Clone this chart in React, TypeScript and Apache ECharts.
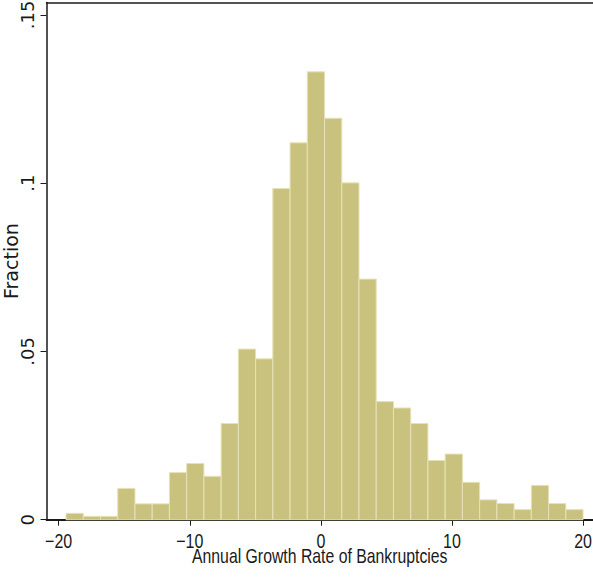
import React, { useEffect, useRef } from "react";
import * as echarts from "echarts";

// Histogram: fraction of observations per bin of annual growth rate of bankruptcies
const binStart = -19.44;
const binWidth = 1.3147;
const fractions = [
  0.0019, 0.001, 0.001, 0.0093, 0.0047, 0.0047, 0.014, 0.0167, 0.0129, 0.0286,
  0.0507, 0.0478, 0.0984, 0.112, 0.1331, 0.1193, 0.1001, 0.0715, 0.0351, 0.0332,
  0.0286, 0.0176, 0.0195, 0.0111, 0.0059, 0.0048, 0.003, 0.0102, 0.0048, 0.003,
];
const xTicks = [-20, -10, 0, 10, 20];
const yTicks = [0, 0.05, 0.1, 0.15];
const yTickLabels = ["0", ".05", ".1", ".15"];
const xName = "Annual Growth Rate of Bankruptcies";
const yName = "Fraction";

const X_MIN = -20.93;
const X_MAX = 20.76;
const Y_MAX = 0.1537;

const sans = "'Liberation Sans', Arial, sans-serif";
const wide = "'DejaVu Sans', sans-serif";
const INK = "#1a1a1a";

const fmtX = (v: number) => (v < 0 ? "\u2212" + Math.abs(v) : String(v));

export default function App() {
  const ref = useRef<HTMLDivElement>(null);
  useEffect(() => {
    if (!ref.current) return;
    const chart = echarts.init(ref.current, undefined, { renderer: "svg" });
    const data = fractions.map((v, i) => [binStart + i * binWidth, binStart + (i + 1) * binWidth, v]);
    chart.setOption({
      animation: false,
      backgroundColor: "#ffffff",
      grid: { left: 46.5, top: 2.5, right: 0, bottom: 58.3, containLabel: false, outerBoundsMode: "none" },
      xAxis: [
        {
          type: "value",
          min: X_MIN,
          max: X_MAX,
          axisLine: { show: true, onZero: false, lineStyle: { color: INK, width: 1.8 } },
          axisTick: { show: true, length: 6, customValues: xTicks, lineStyle: { color: INK, width: 1 } },
          axisLabel: { show: false },
          splitLine: { show: false },
        },
        {
          type: "value",
          position: "top",
          min: X_MIN,
          max: X_MAX,
          axisLine: { show: true, onZero: false, lineStyle: { color: INK, width: 1.5 } },
          axisTick: { show: false },
          axisLabel: { show: false },
          splitLine: { show: false },
        },
      ],
      yAxis: {
        type: "value",
        min: 0,
        max: Y_MAX,
        name: yName,
        nameLocation: "middle",
        nameRotate: 90,
        nameGap: 27,
        nameMoveOverlap: false,
        nameTextStyle: { fontFamily: wide, fontSize: 19, lineHeight: 18, color: INK },
        axisLine: { show: true, onZero: false, lineStyle: { color: INK, width: 1.5 } },
        axisTick: { show: true, length: 6, customValues: yTicks, lineStyle: { color: INK, width: 1 } },
        axisLabel: {
          customValues: yTicks,
          rotate: 90,
          margin: 10,
          fontFamily: wide,
          fontSize: 18,
          color: INK,
          formatter: (v: number) => {
            const i = yTicks.findIndex((t) => Math.abs(t - v) < 1e-9);
            return i >= 0 ? yTickLabels[i] : "";
          },
        },
        splitLine: { show: false },
      },
      series: [
        {
          type: "custom",
          xAxisIndex: 0,
          yAxisIndex: 0,
          data,
          encode: { x: [0, 1], y: 2 },
          renderItem: (params: any, api: any) => {
            const x0 = api.value(0);
            const x1 = api.value(1);
            const v = api.value(2);
            const p0 = api.coord([x0, v]);
            const p1 = api.coord([x1, 0]);
            return {
              type: "rect",
              shape: { x: p0[0], y: p0[1], width: p1[0] - p0[0], height: p1[1] - p0[1] },
              style: { fill: "#c9c27f", stroke: "#e6e2b6", lineWidth: 1 },
            };
          },
        },
      ],
    });

    // x tick labels and axis title, placed through the x scale, drawn in a condensed face
    const zeroY = chart.convertToPixel({ yAxisIndex: 0 }, 0) as number;
    const left = chart.convertToPixel({ xAxisIndex: 0 }, X_MIN) as number;
    const right = chart.convertToPixel({ xAxisIndex: 0 }, X_MAX) as number;
    const labels = xTicks.map((t) => ({
      type: "text",
      x: chart.convertToPixel({ xAxisIndex: 0 }, t) as number,
      y: zeroY + 21.5,
      scaleX: 0.8,
      silent: true,
      style: {
        text: fmtX(t),
        fontFamily: sans,
        fontSize: 20,
        fill: INK,
        textAlign: "center",
        textVerticalAlign: "middle",
        verticalAlign: "middle",
      },
    }));
    chart.setOption({
      graphic: [
        ...labels,
        {
          type: "text",
          x: (left + right) / 2,
          y: zeroY + 37,
          scaleX: 0.79,
          silent: true,
          style: {
            text: xName,
            fontFamily: sans,
            fontSize: 20,
            fill: INK,
            textAlign: "center",
            textVerticalAlign: "middle",
            verticalAlign: "middle",
          },
        },
      ],
    });
    return () => chart.dispose();
  }, []);
  return (
    <div
      ref={ref}
      style={{ position: "fixed", left: 0, top: 0, width: 593, height: 578, background: "#fff" }}
    />
  );
}
